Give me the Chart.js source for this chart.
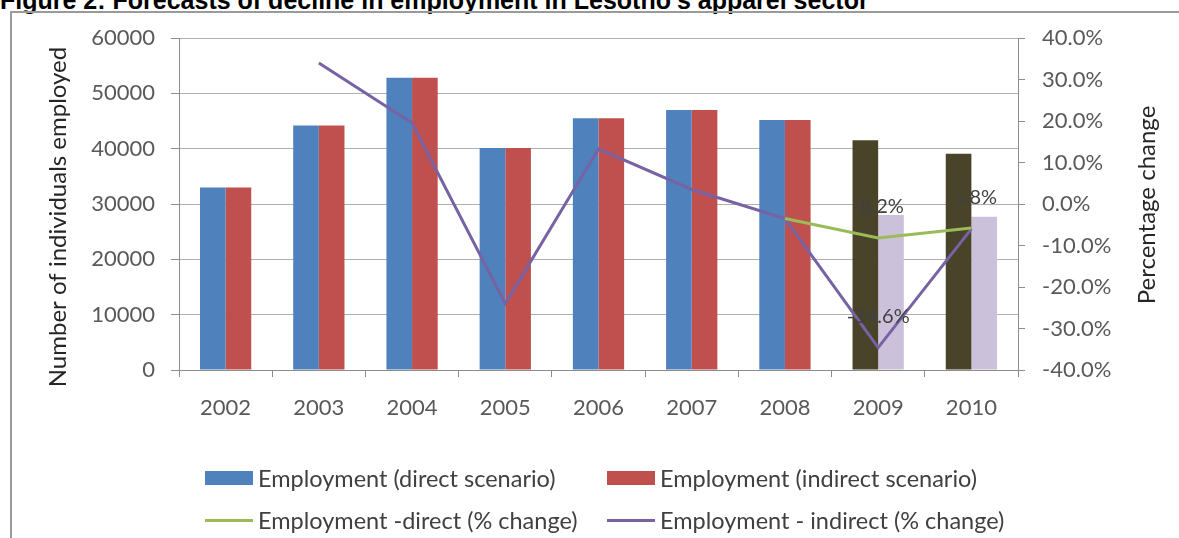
<!DOCTYPE html>
<html>
<head>
<meta charset="utf-8">
<script src="https://cdn.jsdelivr.net/npm/chart.js@4.4.1/dist/chart.umd.min.js"></script>
<style>
  html, body { margin: 0; padding: 0; background: #fff; overflow: hidden; }
  body { width: 1179px; height: 538px; position: relative; }
  #title { position: absolute; left: 0; top: -12px; font-family: "Liberation Sans", Arial, sans-serif; font-weight: bold; font-size: 25px; line-height: 25px; color: #000; white-space: nowrap; }
  #frame { position: absolute; left: 10px; top: 11px; width: 1300px; height: 700px; border: 2px solid #9a9a9a; box-sizing: border-box; }
  #wrap { position: absolute; left: 0; top: 0; width: 1179px; height: 538px; }
  .lg { position: absolute; font-family: Lato, sans-serif; font-size: 23.5px; color: #404040; white-space: nowrap; display: flex; align-items: center; height: 28px; }
  .lg .mk { display: inline-block; width: 48px; margin-right: 5px; }
</style>
</head>
<body>
<div id="title">Figure 2: Forecasts of decline in employment in Lesotho's apparel sector</div>
<div id="frame"></div>
<div id="wrap"><canvas id="c" width="1179" height="538"></canvas></div>
<div id="legend"></div>
<script>
// ---- data ----
const years = ['2002', '2003', '2004', '2005', '2006', '2007', '2008', '2009', '2010'];
const employmentDirect = [33000, 44200, 52800, 40100, 45500, 47000, 45200, 41500, 39100];
const employmentIndirect = [33000, 44200, 52800, 40100, 45500, 47000, 45200, 28000, 27700];
const pctChangeDirect = [null, null, null, null, null, null, -3.5, -8.2, -5.8];
const pctChangeIndirect = [null, 34.0, 19.5, -24.0, 13.3, 3.5, -3.5, -34.6, -6.0];
const labelsDirect = [null, null, null, null, null, null, null, '-8.2%', '-5.8%'];
const labelsIndirect = [null, null, null, null, null, null, null, '-34.6%', null];
const seriesNames = ['Employment (direct scenario)', 'Employment (indirect scenario)', 'Employment -direct (% change)', 'Employment - indirect (% change)'];
const leftTicks = [0, 10000, 20000, 30000, 40000, 50000, 60000];
const rightTicks = [-40, -30, -20, -10, 0, 10, 20, 30, 40];
const leftAxisTitle = 'Number of individuals employed';
const rightAxisTitle = 'Percentage change';

// ---- styles ----
const BLUE = '#4F81BD', RED = '#C0504D', DARK = '#494429', LAV = '#CCC1DA';
const GREEN = '#9BBB59', PURPLE = '#7762A4';
const forecastStart = 7;
const directColors = years.map((y, i) => i >= forecastStart ? DARK : BLUE);
const indirectColors = years.map((y, i) => i >= forecastStart ? LAV : RED);
const AXIS = '#8c8c8c', GRID = '#b0b0b0', TICK = '#595959';
const tickFont = { family: 'Lato', size: 22 };

const dataLabelPlugin = {
  id: 'dataLabels',
  afterDatasetsDraw(chart) {
    const ctx = chart.ctx;
    ctx.save();
    ctx.font = '20px Lato';
    ctx.fillStyle = '#404040';
    ctx.textAlign = 'center';
    ctx.textBaseline = 'middle';
    chart.data.datasets.forEach((ds, di) => {
      if (!ds.pointLabels) return;
      const meta = chart.getDatasetMeta(di);
      ds.pointLabels.forEach((t, i) => {
        if (!t) return;
        const el = meta.data[i];
        ctx.fillText(t, el.x, el.y - 31);
      });
    });
    ctx.restore();
  }
};

// axis titles, both reading bottom-to-top as in the source
const axisTitlePlugin = {
  id: 'axisTitles',
  afterDraw(chart) {
    const ctx = chart.ctx;
    const ca = chart.chartArea;
    ctx.save();
    ctx.font = '24px Lato';
    ctx.fillStyle = '#262626';
    ctx.textAlign = 'center';
    ctx.textBaseline = 'middle';
    const draw = (text, x, y) => {
      ctx.save();
      ctx.translate(x, y);
      ctx.rotate(-Math.PI / 2);
      ctx.fillText(text, 0, 0);
      ctx.restore();
    };
    const mid = (ca.top + ca.bottom) / 2;
    draw(leftAxisTitle, chart.scales.y.left + 46, mid + 13);
    draw(rightAxisTitle, chart.scales.y1.right - 32, mid + 1);
    ctx.restore();
  }
};

const chart = new Chart(document.getElementById('c'), {
  data: {
    labels: years,
    datasets: [
      { type: 'line', label: seriesNames[2], data: pctChangeDirect, yAxisID: 'y1', borderColor: GREEN, backgroundColor: GREEN, borderWidth: 3, pointRadius: 0, tension: 0, order: 0, pointLabels: labelsDirect },
      { type: 'line', label: seriesNames[3], data: pctChangeIndirect, yAxisID: 'y1', borderColor: PURPLE, backgroundColor: PURPLE, borderWidth: 3, pointRadius: 0, tension: 0, order: 1, pointLabels: labelsIndirect },
      { type: 'bar', label: seriesNames[0], data: employmentDirect, yAxisID: 'y', backgroundColor: directColors, order: 2, barPercentage: 1, categoryPercentage: 0.55 },
      { type: 'bar', label: seriesNames[1], data: employmentIndirect, yAxisID: 'y', backgroundColor: indirectColors, order: 3, barPercentage: 1, categoryPercentage: 0.55 }
    ]
  },
  options: {
    responsive: false,
    animation: false,
    devicePixelRatio: 1,
    layout: { padding: { left: 12, right: 0, top: 38, bottom: 108 } },
    plugins: { legend: { display: false }, tooltip: { enabled: false } },
    scales: {
      x: {
        grid: { display: true, drawOnChartArea: false, drawTicks: true, tickLength: 7, color: AXIS, offset: true },
        border: { display: true, color: AXIS, width: 1 },
        ticks: { font: tickFont, color: TICK, padding: 18, maxRotation: 0 },
        afterFit(s) { s.height = 60; }
      },
      y: {
        position: 'left',
        min: 0, max: 60000,
        afterBuildTicks(s) { s.ticks = leftTicks.map(v => ({ value: v })); },
        grid: { color: GRID, lineWidth: 1, tickColor: AXIS, tickLength: 8 },
        border: { display: true, color: AXIS, width: 1 },
        ticks: { font: tickFont, color: TICK, padding: 16, callback: v => String(v) },
        afterFit(s) { s.width = 167; }
      },
      y1: {
        position: 'right',
        min: -40, max: 40,
        afterBuildTicks(s) { s.ticks = rightTicks.map(v => ({ value: v })); },
        grid: { drawOnChartArea: false, drawTicks: true, tickLength: 7, color: AXIS },
        border: { display: true, color: AXIS, width: 1 },
        ticks: { font: tickFont, color: TICK, padding: 17, callback: v => v.toFixed(1) + '%' },
        afterFit(s) { s.width = 161; }
      }
    }
  },
  plugins: [dataLabelPlugin, axisTitlePlugin]
});

// ---- legend (HTML, built from dataset labels/colours) ----
const legendItems = [
  { text: seriesNames[0], color: BLUE, kind: 'box', x: 205, y: 464 },
  { text: seriesNames[1], color: RED, kind: 'box', x: 607, y: 464 },
  { text: seriesNames[2], color: GREEN, kind: 'line', x: 205, y: 506 },
  { text: seriesNames[3], color: PURPLE, kind: 'line', x: 607, y: 506 }
];
const lg = document.getElementById('legend');
legendItems.forEach(it => {
  const d = document.createElement('div');
  d.className = 'lg';
  d.style.left = it.x + 'px';
  d.style.top = it.y + 'px';
  const m = document.createElement('span');
  m.className = 'mk';
  m.style.background = it.color;
  m.style.height = it.kind === 'box' ? '14px' : '3px';
  d.appendChild(m);
  d.appendChild(document.createTextNode(it.text));
  lg.appendChild(d);
});
</script>
</body>
</html>
